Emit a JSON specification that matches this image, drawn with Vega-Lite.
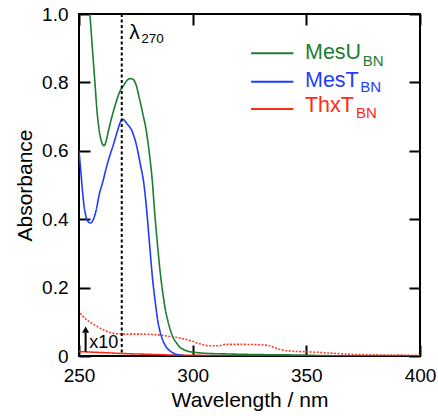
{
  "$schema": "https://vega.github.io/schema/vega-lite/v6.json",
  "width": 341,
  "height": 342,
  "autosize": {"type": "none"},
  "padding": {"left": 79, "top": 14, "right": 18, "bottom": 60},
  "config": {
    "font": "Liberation Sans",
    "view": {"stroke": "black", "strokeWidth": 2},
    "axis": {
      "domain": false, "grid": false, "tickColor": "black", "tickWidth": 2, "tickSize": -11,
      "labelColor": "black", "titleColor": "black", "labelFont": "Liberation Sans", "titleFont": "Liberation Sans",
      "labelFontSize": 19, "titleFontSize": 21, "titleFontWeight": "normal", "labelFlush": false, "labelOverlap": false
    }
  },
  "datasets": {
    "spectra": [
      {"series": "ThxT", "wavelength": 250, "absorbance": 0.013},
      {"series": "ThxT", "wavelength": 260, "absorbance": 0.01},
      {"series": "ThxT", "wavelength": 270, "absorbance": 0.007},
      {"series": "ThxT", "wavelength": 280, "absorbance": 0.005},
      {"series": "ThxT", "wavelength": 290, "absorbance": 0.003},
      {"series": "ThxT", "wavelength": 300, "absorbance": 0.002},
      {"series": "ThxT", "wavelength": 320, "absorbance": 0.001},
      {"series": "ThxT", "wavelength": 350, "absorbance": 0.0005},
      {"series": "ThxT", "wavelength": 400, "absorbance": 0},
      {"series": "ThxT x10", "wavelength": 250.5, "absorbance": 0.125},
      {"series": "ThxT x10", "wavelength": 253, "absorbance": 0.108},
      {"series": "ThxT x10", "wavelength": 256.8, "absorbance": 0.091},
      {"series": "ThxT x10", "wavelength": 260, "absorbance": 0.079},
      {"series": "ThxT x10", "wavelength": 262.6, "absorbance": 0.071},
      {"series": "ThxT x10", "wavelength": 265.5, "absorbance": 0.066},
      {"series": "ThxT x10", "wavelength": 268.5, "absorbance": 0.064},
      {"series": "ThxT x10", "wavelength": 273, "absorbance": 0.064},
      {"series": "ThxT x10", "wavelength": 277.3, "absorbance": 0.064},
      {"series": "ThxT x10", "wavelength": 282, "absorbance": 0.063},
      {"series": "ThxT x10", "wavelength": 286.1, "absorbance": 0.061},
      {"series": "ThxT x10", "wavelength": 290, "absorbance": 0.057},
      {"series": "ThxT x10", "wavelength": 294.9, "absorbance": 0.052},
      {"series": "ThxT x10", "wavelength": 300, "absorbance": 0.043},
      {"series": "ThxT x10", "wavelength": 303, "absorbance": 0.036},
      {"series": "ThxT x10", "wavelength": 307.3, "absorbance": 0.03},
      {"series": "ThxT x10", "wavelength": 311.6, "absorbance": 0.03},
      {"series": "ThxT x10", "wavelength": 314.4, "absorbance": 0.034},
      {"series": "ThxT x10", "wavelength": 320, "absorbance": 0.034},
      {"series": "ThxT x10", "wavelength": 329.3, "absorbance": 0.033},
      {"series": "ThxT x10", "wavelength": 333.7, "absorbance": 0.03},
      {"series": "ThxT x10", "wavelength": 336, "absorbance": 0.025},
      {"series": "ThxT x10", "wavelength": 338.1, "absorbance": 0.02},
      {"series": "ThxT x10", "wavelength": 344, "absorbance": 0.014},
      {"series": "ThxT x10", "wavelength": 351.3, "absorbance": 0.012},
      {"series": "ThxT x10", "wavelength": 361.6, "absorbance": 0.008},
      {"series": "ThxT x10", "wavelength": 373.3, "absorbance": 0.004},
      {"series": "ThxT x10", "wavelength": 385, "absorbance": 0.003},
      {"series": "ThxT x10", "wavelength": 400, "absorbance": 0.002},
      {"series": "MesT", "wavelength": 250, "absorbance": 0.6},
      {"series": "MesT", "wavelength": 250.8, "absorbance": 0.54},
      {"series": "MesT", "wavelength": 251.5, "absorbance": 0.485},
      {"series": "MesT", "wavelength": 252.2, "absorbance": 0.44},
      {"series": "MesT", "wavelength": 253, "absorbance": 0.41},
      {"series": "MesT", "wavelength": 254, "absorbance": 0.393},
      {"series": "MesT", "wavelength": 255, "absorbance": 0.389},
      {"series": "MesT", "wavelength": 256, "absorbance": 0.395},
      {"series": "MesT", "wavelength": 257.5, "absorbance": 0.425},
      {"series": "MesT", "wavelength": 259, "absorbance": 0.475},
      {"series": "MesT", "wavelength": 260.5, "absorbance": 0.51},
      {"series": "MesT", "wavelength": 262, "absorbance": 0.55},
      {"series": "MesT", "wavelength": 263.5, "absorbance": 0.585},
      {"series": "MesT", "wavelength": 265, "absorbance": 0.615},
      {"series": "MesT", "wavelength": 267, "absorbance": 0.66},
      {"series": "MesT", "wavelength": 268.5, "absorbance": 0.688},
      {"series": "MesT", "wavelength": 269.3, "absorbance": 0.692},
      {"series": "MesT", "wavelength": 271, "absorbance": 0.68},
      {"series": "MesT", "wavelength": 273.5, "absorbance": 0.655},
      {"series": "MesT", "wavelength": 275.5, "absorbance": 0.61},
      {"series": "MesT", "wavelength": 277, "absorbance": 0.56},
      {"series": "MesT", "wavelength": 278.5, "absorbance": 0.505},
      {"series": "MesT", "wavelength": 279.5, "absorbance": 0.445},
      {"series": "MesT", "wavelength": 281, "absorbance": 0.33},
      {"series": "MesT", "wavelength": 282.4, "absorbance": 0.223},
      {"series": "MesT", "wavelength": 283.5, "absorbance": 0.16},
      {"series": "MesT", "wavelength": 284.6, "absorbance": 0.105},
      {"series": "MesT", "wavelength": 285.7, "absorbance": 0.07},
      {"series": "MesT", "wavelength": 286.8, "absorbance": 0.047},
      {"series": "MesT", "wavelength": 288.3, "absorbance": 0.027},
      {"series": "MesT", "wavelength": 289.8, "absorbance": 0.016},
      {"series": "MesT", "wavelength": 292, "absorbance": 0.007},
      {"series": "MesT", "wavelength": 295, "absorbance": 0.002},
      {"series": "MesT", "wavelength": 300, "absorbance": 0},
      {"series": "MesT", "wavelength": 400, "absorbance": 0},
      {"series": "MesU", "wavelength": 250, "absorbance": 1.5},
      {"series": "MesU", "wavelength": 253, "absorbance": 1.18},
      {"series": "MesU", "wavelength": 254.8, "absorbance": 1.0},
      {"series": "MesU", "wavelength": 256, "absorbance": 0.89},
      {"series": "MesU", "wavelength": 257, "absorbance": 0.8},
      {"series": "MesU", "wavelength": 258, "absorbance": 0.71},
      {"series": "MesU", "wavelength": 259, "absorbance": 0.655},
      {"series": "MesU", "wavelength": 260, "absorbance": 0.625},
      {"series": "MesU", "wavelength": 261, "absorbance": 0.615},
      {"series": "MesU", "wavelength": 262, "absorbance": 0.63},
      {"series": "MesU", "wavelength": 263, "absorbance": 0.66},
      {"series": "MesU", "wavelength": 264.1, "absorbance": 0.69},
      {"series": "MesU", "wavelength": 266, "absorbance": 0.735},
      {"series": "MesU", "wavelength": 268, "absorbance": 0.774},
      {"series": "MesU", "wavelength": 269.5, "absorbance": 0.79},
      {"series": "MesU", "wavelength": 271, "absorbance": 0.805},
      {"series": "MesU", "wavelength": 272.5, "absorbance": 0.811},
      {"series": "MesU", "wavelength": 273.5, "absorbance": 0.81},
      {"series": "MesU", "wavelength": 275, "absorbance": 0.795},
      {"series": "MesU", "wavelength": 276.5, "absorbance": 0.755},
      {"series": "MesU", "wavelength": 278, "absorbance": 0.71},
      {"series": "MesU", "wavelength": 279.5, "absorbance": 0.662},
      {"series": "MesU", "wavelength": 281, "absorbance": 0.59},
      {"series": "MesU", "wavelength": 282.2, "absorbance": 0.515},
      {"series": "MesU", "wavelength": 283.4, "absorbance": 0.41},
      {"series": "MesU", "wavelength": 284.6, "absorbance": 0.32},
      {"series": "MesU", "wavelength": 285.8, "absorbance": 0.24},
      {"series": "MesU", "wavelength": 287.1, "absorbance": 0.173},
      {"series": "MesU", "wavelength": 288, "absorbance": 0.135},
      {"series": "MesU", "wavelength": 289, "absorbance": 0.105},
      {"series": "MesU", "wavelength": 290, "absorbance": 0.08},
      {"series": "MesU", "wavelength": 291.2, "absorbance": 0.057},
      {"series": "MesU", "wavelength": 292.7, "absorbance": 0.04},
      {"series": "MesU", "wavelength": 294.2, "absorbance": 0.027},
      {"series": "MesU", "wavelength": 296, "absorbance": 0.019},
      {"series": "MesU", "wavelength": 298.5, "absorbance": 0.013},
      {"series": "MesU", "wavelength": 302, "absorbance": 0.01},
      {"series": "MesU", "wavelength": 305, "absorbance": 0.008},
      {"series": "MesU", "wavelength": 315, "absorbance": 0.006},
      {"series": "MesU", "wavelength": 330, "absorbance": 0.004},
      {"series": "MesU", "wavelength": 345, "absorbance": 0.003},
      {"series": "MesU", "wavelength": 360, "absorbance": 0.001},
      {"series": "MesU", "wavelength": 380, "absorbance": 0.0005},
      {"series": "MesU", "wavelength": 400, "absorbance": 0}
    ],
    "legend": [
      {"series": "MesU", "main": "MesU", "sub": "BN", "x0": 325.7, "x1": 344.3, "yl": 0.885, "xt": 349.4, "yt": 0.8675, "xs": 374.8, "ys": 0.849},
      {"series": "MesT", "main": "MesT", "sub": "BN", "x0": 325.7, "x1": 344.3, "yl": 0.802, "xt": 349.4, "yt": 0.787, "xs": 373.7, "ys": 0.773},
      {"series": "ThxT", "main": "ThxT", "sub": "BN", "x0": 325.7, "x1": 344.3, "yl": 0.722, "xt": 349.4, "yt": 0.712, "xs": 371.8, "ys": 0.697}
    ]
  },
  "layer": [
    {
      "data": {"name": "spectra"},
      "mark": {"type": "line", "clip": true, "strokeWidth": 1.6, "interpolate": "monotone"},
      "encoding": {
        "x": {"field": "wavelength", "type": "quantitative", "scale": {"domain": [250, 400], "nice": false},
          "axis": {"orient": "bottom", "values": [250, 300, 350, 400], "labelPadding": 21, "title": "Wavelength / nm", "titlePadding": 4}},
        "y": {"field": "absorbance", "type": "quantitative", "scale": {"domain": [0, 1], "nice": false, "zero": false},
          "axis": {"orient": "left", "values": [0, 0.2, 0.4, 0.6, 0.8, 1], "labelExpr": "datum.value == 0 ? '0' : format(datum.value, '.1f')", "labelPadding": 22, "title": "Absorbance", "titlePadding": 6}},
        "color": {"field": "series", "type": "nominal", "scale": {"domain": ["MesU", "MesT", "ThxT", "ThxT x10"], "range": ["#1e7d34", "#1f3cff", "#ff2a12", "#ff3b2b"]}, "legend": null},
        "strokeDash": {"field": "series", "type": "nominal", "scale": {"domain": ["MesU", "MesT", "ThxT", "ThxT x10"], "range": [[1, 0], [1, 0], [1, 0], [2, 1.5]]}, "legend": null}
      }
    },
    {
      "data": {"values": [{"wavelength": 268.8}]},
      "mark": {"type": "rule", "strokeDash": [3, 2.5], "strokeWidth": 2, "color": "black"},
      "encoding": {"x": {"field": "wavelength", "type": "quantitative", "axis": null}}
    },
    {
      "data": {"name": "legend"},
      "mark": {"type": "rule", "strokeWidth": 2},
      "encoding": {
        "x": {"field": "x0", "type": "quantitative", "axis": {"orient": "top", "values": [250, 300, 350, 400], "labels": false, "title": null}},
        "x2": {"field": "x1"},
        "y": {"field": "yl", "type": "quantitative", "axis": {"orient": "right", "values": [0, 0.2, 0.4, 0.6, 0.8, 1], "labels": false, "title": null}},
        "color": {"field": "series", "type": "nominal", "legend": null}
      }
    },
    {
      "data": {"name": "legend"},
      "mark": {"type": "text", "align": "left", "baseline": "alphabetic", "fontSize": 21.5},
      "encoding": {
        "x": {"field": "xt", "type": "quantitative", "axis": null},
        "y": {"field": "yt", "type": "quantitative", "axis": null},
        "text": {"field": "main"},
        "color": {"field": "series", "type": "nominal", "legend": null}
      }
    },
    {
      "data": {"name": "legend"},
      "mark": {"type": "text", "align": "left", "baseline": "alphabetic", "fontSize": 15},
      "encoding": {
        "x": {"field": "xs", "type": "quantitative", "axis": null},
        "y": {"field": "ys", "type": "quantitative", "axis": null},
        "text": {"field": "sub"},
        "color": {"field": "series", "type": "nominal", "legend": null}
      }
    },
    {
      "data": {"values": [{"label": "λ", "wavelength": 272.1, "absorbance": 0.926}]},
      "mark": {"type": "text", "align": "left", "baseline": "alphabetic", "fontSize": 21, "color": "black"},
      "encoding": {
        "x": {"field": "wavelength", "type": "quantitative", "axis": null},
        "y": {"field": "absorbance", "type": "quantitative", "axis": null},
        "text": {"field": "label"}
      }
    },
    {
      "data": {"values": [{"label": "270", "wavelength": 277.4, "absorbance": 0.916}]},
      "mark": {"type": "text", "align": "left", "baseline": "alphabetic", "fontSize": 13.5, "color": "black"},
      "encoding": {
        "x": {"field": "wavelength", "type": "quantitative", "axis": null},
        "y": {"field": "absorbance", "type": "quantitative", "axis": null},
        "text": {"field": "label"}
      }
    },
    {
      "data": {"values": [{"label": "x10", "wavelength": 254.5, "absorbance": 0.0225}]},
      "mark": {"type": "text", "align": "left", "baseline": "alphabetic", "fontSize": 18, "color": "black"},
      "encoding": {
        "x": {"field": "wavelength", "type": "quantitative", "axis": null},
        "y": {"field": "absorbance", "type": "quantitative", "axis": null},
        "text": {"field": "label"}
      }
    },
    {
      "data": {"values": [{"wavelength": 252.9, "from": 0.013, "to": 0.068}]},
      "mark": {"type": "rule", "strokeWidth": 2, "color": "black"},
      "encoding": {
        "x": {"field": "wavelength", "type": "quantitative", "axis": null},
        "y": {"field": "from", "type": "quantitative", "axis": null},
        "y2": {"field": "to"}
      }
    },
    {
      "data": {"values": [{"wavelength": 252.9, "absorbance": 0.077}]},
      "mark": {"type": "point", "shape": "triangle-up", "filled": true, "size": 50, "color": "black", "opacity": 1},
      "encoding": {
        "x": {"field": "wavelength", "type": "quantitative", "axis": null},
        "y": {"field": "absorbance", "type": "quantitative", "axis": null}
      }
    }
  ],
  "resolve": {"axis": {"x": "independent", "y": "independent"}}
}
